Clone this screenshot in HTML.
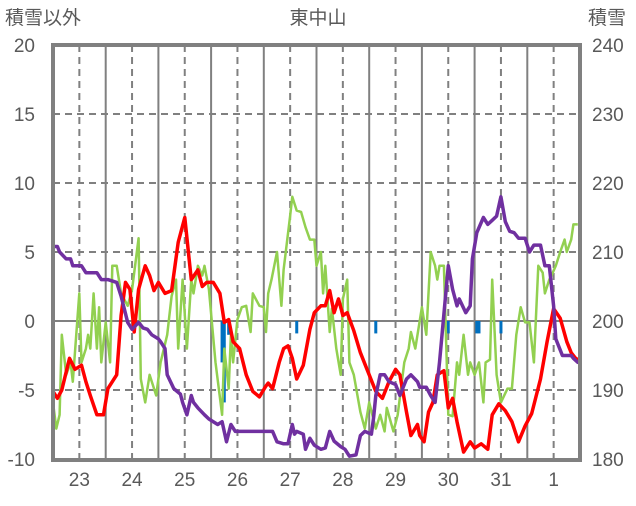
<!DOCTYPE html>
<html><head><meta charset="utf-8">
<style>
body{margin:0;background:#fff;}
svg text{font-family:"Liberation Sans","Noto Sans CJK JP",sans-serif;fill:#595959;font-size:19px;}
</style></head>
<body>
<svg id="chart" width="636" height="501" viewBox="0 0 636 501" xmlns="http://www.w3.org/2000/svg">
<g id="grid"></g>
<g id="series"></g>
<rect x="53" y="45" width="527" height="415" fill="none" stroke="#808080" stroke-width="4"/>
<text x="318" y="24" text-anchor="middle">東中山</text>
<text x="5" y="24">積雪以外</text>
<text x="588" y="24">積雪</text>
<g id="labels"></g>
</svg>
<script>
const dayLabels=["23","24","25","26","27","28","29","30","31","1"];
const leftTicks=[20,15,10,5,0,-5,-10];
const rightTicks=[240,230,220,210,200,190,180];
const redH=[0,2,4,7.5,10,13,15,17,20,23,25,29,31,33,35,37,39,42,44,46,48,51,54,57,60,62,63,66,68,70,73,76,78,80,82,85,88,91,94,97,98,100,103,105,107,109,111,114,117,119,122,124,126,128,130,132,134,137,140,143,147,150,153,156,158,161,163,166,167,169,171,173,175,178,180,182,184,187,190,192,195,198,200,203,206,209,212,215,218,222,225,228,231,234,236,238,240];
const redV=[-5.1,-5.6,-5.0,-2.7,-3.5,-3.2,-4.4,-5.4,-6.8,-6.8,-4.9,-3.9,0.4,2.8,2.3,-0.8,2.3,4.0,3.3,2.2,2.8,2.0,2.2,5.7,7.5,4.5,3.0,3.7,2.5,2.8,2.8,2.0,-0.1,0.1,-1.5,-2.0,-3.9,-5.1,-5.5,-4.7,-4.5,-4.9,-3.0,-2.0,-1.8,-2.7,-4.2,-3.2,-0.6,0.6,1.1,1.1,2.2,0.6,1.6,0.4,0.6,-0.7,-2.3,-3.5,-5.1,-5.6,-4.4,-3.5,-3.9,-6.6,-8.3,-7.5,-8.3,-8.75,-6.6,-5.9,-3.9,-3.6,-6.3,-5.6,-7.3,-9.5,-8.75,-9.2,-8.9,-9.3,-6.8,-6.0,-6.5,-7.3,-8.75,-7.6,-6.7,-4.2,-1.5,0.9,0.2,-1.5,-2.3,-2.7,-2.9];
const greenH=[0,1.5,3,4,6,8,9,12,13,15,16,17,18.5,20,21,22,24,26,27,29,31,34,36,39,40,42,44,47,49,52,54,56,57,59,61,63,64,66,68,69,71,74,77,78,80,81,82,84,86,88,90,91,94,96,97,98,99.5,102,104,105,108,109,111,113,115,117,119,120,122,123,124,126,127,129,131,132,134,135,137,140,142,144,147,149,151,152,155,157,160,162,163,165,168,170,172,174,175,176,178,180,182,184,185,187,189,190,192,194,196,197,199,200,202,204,207,209,211,213,215,217,219,221,223,224,226,227,229,231,233,234,236,237,239];
const greenV=[-5.9,-7.8,-6.8,-1.0,-3.9,-3.0,-4.4,2.0,-3.0,-2.0,-1.0,-2.0,2.0,-2.0,1.0,-3.0,-0.1,-3.0,4.0,4.0,2.0,1.1,2.3,6.0,-4.2,-5.9,-3.9,-5.4,-3.0,-1.0,1.8,3.0,-2.0,3.0,-2.0,3.0,2.0,4.0,3.3,4.0,2.3,-3.0,-6.8,-2.0,-4.9,-1.0,-3.0,0.1,1.0,1.1,-0.8,2.0,1.1,1.0,-0.8,2.0,3.0,5.0,1.1,3.7,7.6,9.0,8.0,7.9,6.8,5.9,5.9,4.0,5.0,2.0,4.0,-0.8,0.9,-2.0,-3.9,1.6,3.0,-3.0,-3.9,-6.6,-7.8,-5.9,-7.8,-6.8,-8.0,-6.3,-8.0,-6.8,-3.0,-2.0,-0.8,-2.0,1.0,-1.0,5.0,4.0,3.0,4.0,4.0,-6.8,-6.9,-3.0,-3.9,-1.0,-3.9,-3.0,-3.9,-3.0,-5.9,-3.0,-2.8,3.0,-3.9,-5.9,-4.9,-4.9,-1.0,1.0,-0.1,-0.1,-3.0,4.0,3.5,2.0,3.0,3.3,4.0,5.0,5.9,5.0,5.9,7.0,7.0];
const purpleH=[0,2,3,6,8,9,10,13,15,20,22,25,29,31,34,36,39,41,43,45,48,49,51,52,55,58,59,61,63,64,66,69,71,73,75,77,79,81,83,94,100,102,105,107,109,110,111,114,115,117,119,122,124,126,128,131,133,135,138,140,142,145,146,147,149,151,153,156,158,161,163,166,167,170,172,174,176,178,180,182,184,185,188,190,191,193,196,198,200,202,204,206,208,210,212,215,217,219,222,224,226,228,229,232,236,237,239,240];
const purpleV=[5.4,5.4,5.0,4.5,4.5,4.0,4.0,4.0,3.5,3.5,3.0,3.0,2.8,1.8,-0.1,-0.6,-0.1,-0.5,-0.6,-1.0,-1.3,-1.5,-2.0,-3.9,-4.9,-5.3,-5.9,-6.8,-5.4,-5.9,-6.3,-6.8,-7.1,-7.3,-7.5,-7.3,-8.75,-7.5,-8.0,-8.0,-8.0,-8.75,-8.9,-8.9,-7.5,-8.2,-8.0,-8.2,-9.3,-8.5,-9.0,-9.3,-9.2,-8.0,-8.7,-9.1,-9.3,-9.8,-9.7,-8.3,-8.0,-8.2,-7.0,-5.4,-3.9,-3.9,-4.4,-4.6,-5.4,-4.2,-3.9,-4.4,-4.8,-4.8,-5.4,-5.9,-3.0,0.5,4.0,2.3,1.1,1.6,0.6,1.1,4.5,6.4,7.5,7.0,7.3,7.6,9.0,7.2,6.5,6.4,6.0,6.0,5.0,5.5,5.5,4.0,4.0,1.1,-1.3,-2.5,-2.5,-2.7,-3.0,-3.0];
const precipH=[77,78,80,111,147,180,193,194,204];
const precipV=[-3.0,-5.9,-1.0,-0.9,-0.9,-0.9,-0.9,-0.9,-0.9];

const NS="http://www.w3.org/2000/svg";
const X0=53,X1=580,Y0=45,Y1=459;
function xh(h){return X0+h*(X1-X0)/240;}
function yl(v){return Y1-(v+10)*(Y1-Y0)/30;}
function yr(s){return Y1-(s-180)*(Y1-Y0)/60;}
function mk(t,a,p){const e=document.createElementNS(NS,t);for(const k in a)e.setAttribute(k,a[k]);p.appendChild(e);return e;}
const grid=document.getElementById('grid'),ser=document.getElementById('series'),lab=document.getElementById('labels');
for(let d=0;d<10;d++){
  const xm=xh(d*24+12);
  const g1=mk('line',{x1:xm,x2:xm,y1:Y0,y2:Y1,stroke:'#808080','stroke-width':2,'stroke-dasharray':'7,5'},grid);
  
  
  if(d>0){const xb=xh(d*24);
    const g2=mk('line',{x1:xb,x2:xb,y1:Y0,y2:Y1,stroke:'#808080','stroke-width':2},grid);
    
    }
  const t=mk('text',{x:xm,y:486,'text-anchor':'middle'},lab);t.textContent=dayLabels[d];
  
  
}
leftTicks.forEach((v,i)=>{
  const y=yl(v);
  if(v>-10&&v<20){const l=mk('line',{x1:X0,x2:X1,y1:y,y2:y,stroke:'#808080','stroke-width':2,'stroke-dasharray':v===0?'none':'7,5'},grid);
    
    }
  const t=mk('text',{x:35,y:y+7,'text-anchor':'end'},lab);t.textContent=v;
  
  
  const r=mk('text',{x:592,y:yr(rightTicks[i])+7},lab);r.textContent=rightTicks[i];
  
  
});
precipH.forEach((h,i)=>{
  const b=mk('rect',{x:xh(h)-1.5,y:yl(0),width:3,height:yl(precipV[i])-yl(0),fill:'#0070c0'},ser);
  
  
});
function line(H,V,fy,col,w,name){
  const d=H.map((h,i)=>(i?'L':'M')+xh(h).toFixed(1)+','+fy(V[i]).toFixed(1)).join('');
  const p=mk('path',{d:d,fill:'none',stroke:col,'stroke-width':w,'stroke-linejoin':'round'},ser);
  
  
}
line(greenH,greenV,yl,'#92d050',2.5,'green-series-line');
line(redH,redV,yl,'#ff0000',3.5,'temperature-line');
line(purpleH,purpleV.map(v=>200+v*2),yr,'#7030a0',3.5,'snow-depth-line');
</script>
</body></html>
